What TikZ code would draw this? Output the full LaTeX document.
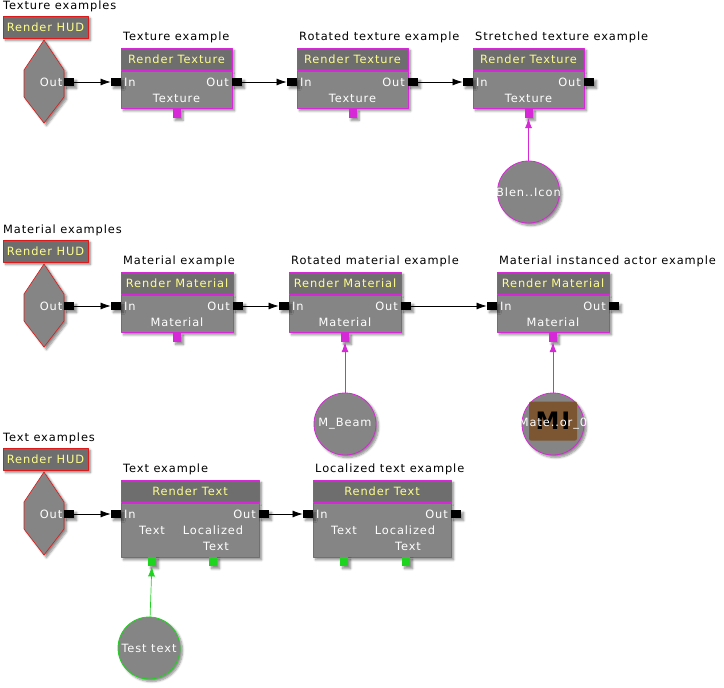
\documentclass[tikz,border=0pt]{standalone}
\usepackage{fontspec}
\setmainfont{DejaVu Sans}[LetterSpace=8]
\usetikzlibrary{arrows.meta,shadows.blur}

\definecolor{kmag}{RGB}{214,40,214}
\definecolor{kred}{RGB}{224,24,24}
\definecolor{kgreen}{RGB}{30,212,30}
\definecolor{kyel}{RGB}{255,255,140}
\definecolor{ktitle}{RGB}{110,110,110}
\definecolor{kbody}{RGB}{133,133,133}
\definecolor{kbrown}{RGB}{124,86,50}

\newcommand{\kfont}{\fontsize{11.4}{13}\selectfont}

\tikzset{
  ksh/.style={blur shadow={shadow xshift=2.5pt, shadow yshift=-2.5pt, shadow blur steps=6, shadow opacity=45}},
  caption/.style={anchor=west, inner sep=0, text=black, font=\kfont},
  portlbl/.style={inner sep=1.5pt, text=white, font=\kfont},
  hudbox/.style={draw=kred, fill=ktitle, text=kyel, font=\kfont, minimum width=85, minimum height=22, inner sep=0, ksh},
  hudev/.style={draw=kred, fill=kbody, line width=0.6pt, ksh},
  titlebox/.style={draw=kmag, fill=ktitle, text=kyel, font=\kfont, minimum height=22, inner sep=0, line width=0.8pt, ksh},
  bodybox/.style={draw=kmag, fill=kbody, inner sep=0, line width=0.8pt, ksh},
  xport/.style={fill=black, minimum width=10, minimum height=8, inner sep=0, ksh},
  vport/.style={fill=#1, minimum width=8, minimum height=9, inner sep=0, ksh},
  varnode/.style={circle, draw=#1, fill=kbody, minimum size=62, inner sep=0, line width=0.8pt, ksh},
  xlink/.style={draw=black, line width=0.7pt, -{Latex[length=10pt,width=7pt]}},
  vlink/.style={draw=#1, line width=0.7pt, -{Latex[length=10pt,width=7pt]}},
}

% HUD event: id, y offset, caption
\newcommand{\khud}[3]{%
  \node[caption] (#1c) at (3,{#2+6}) {#3};
  \node[hudbox] (#1) at (45.5,{#2+27}) {Render HUD};
  \filldraw[hudev] (44,{#2+40}) -- (64,{#2+70}) -- (64,{#2+97}) -- (44,{#2+123})
    -- (24,{#2+97}) -- (24,{#2+70}) -- cycle;
  \node[xport, anchor=west] (#1out) at (64,{#2+82}) {};
  \node[portlbl, anchor=east] at (#1out.west) {Out};
}

% action: id, left, top, width, body height, title
\newcommand{\kaction}[6]{%
  \node[titlebox, minimum width=#4] (#1t) at ({#2+#4/2},{#3+11}) {#6};
  \node[bodybox, minimum width=#4, minimum height=#5, anchor=north] (#1b) at ({#2+#4/2},{#3+23}) {};
  \node[xport, anchor=east] (#1in) at (#2,{#3+34}) {};
  \node[xport, anchor=west] (#1out) at ({#2+#4},{#3+34}) {};
  \node[portlbl, anchor=west, inner xsep=3pt] at (#1in.east) {In};
  \node[portlbl, anchor=east, inner xsep=3pt] at (#1out.west) {Out};
}

\begin{document}
\begin{tikzpicture}[x=1pt, y=-1pt, line cap=round, line join=round]
\useasboundingbox (0,0) rectangle (724,688);

% --- Texture examples ---
\khud{h1}{0}{Texture examples}
\kaction{t1}{121}{48}{111}{37}{Render Texture}
\kaction{t2}{297}{48}{111}{37}{Render Texture}
\kaction{t3}{473}{48}{111}{37}{Render Texture}
\node[caption] at (123,37) {Texture example};
\node[caption] at (299,37) {Rotated texture example};
\node[caption] at (475,37) {Stretched texture example};
\node[portlbl] at (176.5,98) {Texture};
\node[portlbl] at (352.5,98) {Texture};
\node[portlbl] at (528.5,98) {Texture};
\node[vport=kmag, anchor=north] (t1v) at (t1b.south) {};
\node[vport=kmag, anchor=north] (t2v) at (t2b.south) {};
\node[vport=kmag, anchor=north] (t3v) at (t3b.south) {};
\node[varnode=kmag] (blend) at (528.5,192) {};
\node[portlbl] at (blend) {Blen..Icon};

\draw[xlink] (h1out) -- (t1in);
\draw[xlink] (t1out) -- (t2in);
\draw[xlink] (t2out) -- (t3in);
\draw[vlink=kmag] (blend) -- (t3v);

% --- Material examples ---
\khud{h2}{224}{Material examples}
\kaction{m1}{121}{272}{112}{37}{Render Material}
\kaction{m2}{289}{272}{112}{37}{Render Material}
\kaction{m3}{497}{272}{112}{37}{Render Material}
\node[caption] at (123,261) {Material example};
\node[caption] at (291,261) {Rotated material example};
\node[caption] at (499,261) {Material instanced actor example};
\node[portlbl] at (177,322) {Material};
\node[portlbl] at (345,322) {Material};
\node[portlbl] at (553,322) {Material};
\node[vport=kmag, anchor=north] (m1v) at (m1b.south) {};
\node[vport=kmag, anchor=north] (m2v) at (m2b.south) {};
\node[vport=kmag, anchor=north] (m3v) at (m3b.south) {};
\node[varnode=kmag] (beam) at (345,424) {};
\node[portlbl] at (beam) {M\_Beam};
\node[varnode=kmag] (minst) at (553,424) {};
\node[fill=kbrown, rounded corners=2pt, minimum width=48, minimum height=39, inner sep=0,
  font=\fontsize{24}{24}\bfseries\selectfont] (micon) at (553,421) {MI};
\node[portlbl] at (553,424) {Mate..or\_0};

\draw[xlink] (h2out) -- (m1in);
\draw[xlink] (m1out) -- (m2in);
\draw[xlink] (m2out) -- (m3in);
\draw[vlink=kmag] (beam) -- (m2v);
\draw[vlink=kmag] (minst) -- (m3v);

% --- Text examples ---
\khud{h3}{432}{Text examples}
\kaction{x1}{121}{480}{138}{54}{Render Text}
\kaction{x2}{313}{480}{138}{54}{Render Text}
\node[caption] at (123,469) {Text example};
\node[caption] at (315,469) {Localized text example};
\node[portlbl] at (152,530) {Text};
\node[portlbl] at (213,530) {Localized};
\node[portlbl] at (216,546) {Text};
\node[portlbl] at (344,530) {Text};
\node[portlbl] at (405,530) {Localized};
\node[portlbl] at (408,546) {Text};
\node[vport=kgreen, anchor=north] (x1v1) at (152,557) {};
\node[vport=kgreen, anchor=north] (x1v2) at (213,557) {};
\node[vport=kgreen, anchor=north] (x2v1) at (344,557) {};
\node[vport=kgreen, anchor=north] (x2v2) at (406,557) {};
\node[varnode=kgreen] (ttxt) at (149,648) {};
\node[portlbl] at (ttxt) {Test text};

\draw[xlink] (h3out) -- (x1in);
\draw[xlink] (x1out) -- (x2in);
\draw[vlink=kgreen] (ttxt) -- (x1v1);

\end{tikzpicture}
\end{document}
